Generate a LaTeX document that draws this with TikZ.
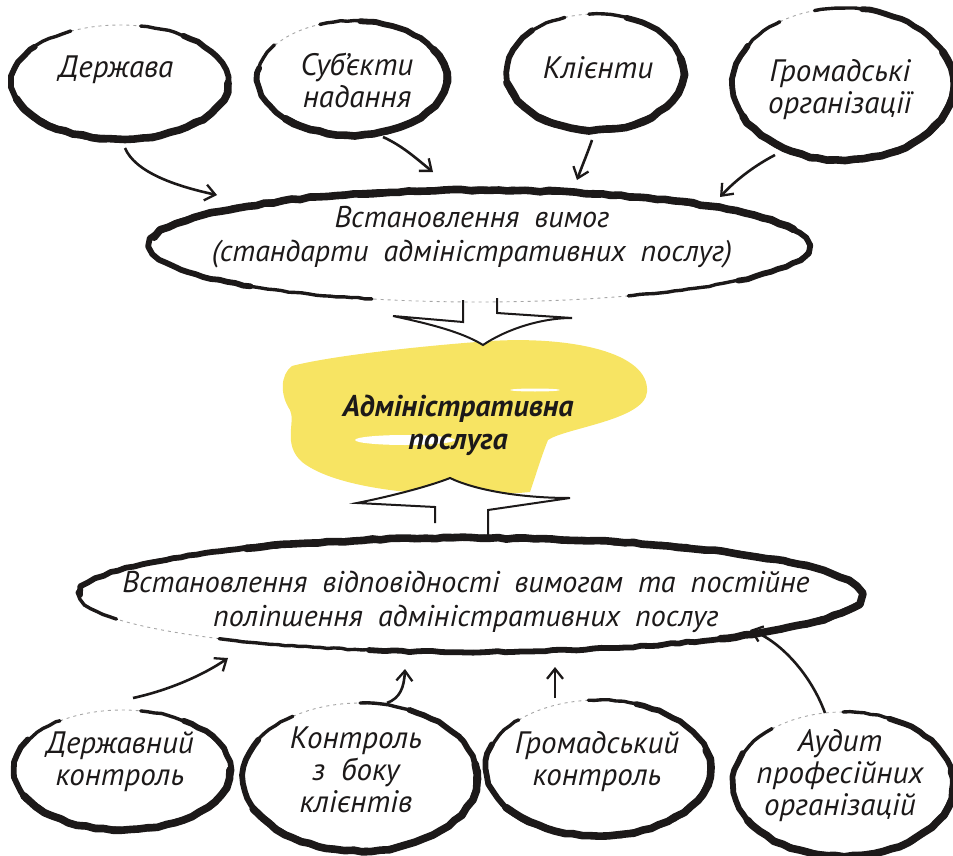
\documentclass[tikz,border=0pt]{standalone}
\usepackage{fontspec}
\setmainfont{PT Sans}[WordSpace=1.9]
\usetikzlibrary{arrows.meta,decorations.pathmorphing}
\definecolor{blobyellow}{HTML}{F7E463}
\definecolor{ink}{HTML}{1C1919}
\newcommand\handell[7]{%
  \pgfmathsetmacro\hA{#7}\pgfmathsetmacro\hB{#6+360}%
  \pgfmathsetmacro\hC{#7+25}\pgfmathsetmacro\hD{#6+335}%
  \pgfmathsetmacro\hE{#7+80}\pgfmathsetmacro\hF{#6+280}%
  \draw[faintline] ([shift={(#2,#3)}]#1.center) ++(#6:#4 and #5) arc[start angle=#6, end angle=#7, x radius=#4, y radius=#5];
  \draw[brushthin] ([shift={(#2,#3)}]#1.center) ++(\hA:#4 and #5) arc[start angle=\hA, end angle=\hB, x radius=#4, y radius=#5];
  \draw[brushmid] ([shift={(#2,#3)}]#1.center) ++(\hC:#4 and #5) arc[start angle=\hC, end angle=\hD, x radius=#4, y radius=#5];
  \draw[brushthick] ([shift={(#2,#3)}]#1.center) ++(\hE:#4 and #5) arc[start angle=\hE, end angle=\hF, x radius=#4, y radius=#5];
}
\begin{document}
\begin{tikzpicture}[x=1pt,y=-1pt,
  lbl/.style={font=\itshape\fontsize{31}{32}\selectfont, align=center, inner sep=0pt, text=ink},
  bigl/.style={font=\itshape\fontsize{30}{34}\selectfont, align=center, inner sep=0pt, text=ink},
  faintline/.style={draw=gray!70, line width=0.9pt, dash pattern=on 3pt off 4pt},
  brushthin/.style={draw=ink, line width=3.4pt, line cap=round, line join=round, decorate, decoration={random steps, segment length=7pt, amplitude=0.6pt}},
  brushmid/.style={draw=ink, line width=5.8pt, line cap=round, line join=round, decorate, decoration={random steps, segment length=8pt, amplitude=0.8pt}},
  brushthick/.style={draw=ink, line width=7.6pt, line cap=round, line join=round, decorate, decoration={random steps, segment length=9pt, amplitude=0.9pt}},
  conn/.style={draw=ink, line width=2.6pt, -{Straight Barb[length=10pt, width=16pt, line width=2.3pt]}},
  blockarrow/.style={draw=ink, fill=white, line width=2pt, line join=miter}
]
\pgfmathsetseed{7}
\useasboundingbox (0,0) rectangle (953,856);

% central yellow blob
\fill[blobyellow] (292,366) .. controls (330,356) and (420,346) .. (490,341)
  .. controls (570,336) and (650,352) .. (647,392)
  .. controls (645,420) and (565,428) .. (548,440)
  .. controls (540,460) and (535,478) .. (530,492)
  .. controls (450,500) and (340,492) .. (302,462)
  .. controls (282,444) and (296,422) .. (290,410)
  .. controls (280,395) and (280,375) .. (292,366) -- cycle;
\fill[white] (405,440) ellipse [x radius=50, y radius=5];
\fill[white] (535,390) ellipse [x radius=25, y radius=1.5];

% block arrows
\draw[blockarrow] (463,300) -- (463,322) -- (393,316)
  .. controls (430,324) and (462,332) .. (483,345)
  .. controls (505,330) and (540,318) .. (572,318) -- (497,313) -- (497,298);
\draw[blockarrow] (435,523) -- (435,507) -- (357,503)
  .. controls (392,496) and (430,486) .. (450,478)
  .. controls (475,490) and (520,498) .. (570,498) -- (488,510) -- (488,537);

% nodes
\node[lbl] (d) at (116,70) {Держава};
\node[lbl] (s) at (357,80) {Суб'єкти\\надання};
\node[lbl] (k) at (598,68) {Клієнти};
\node[lbl] (o) at (840,90) {Громадські\\організації};
\node[bigl] (m) at (472,237) {Встановлення вимог\\(стандарти адміністративних послуг)};
\node[lbl, font=\bfseries\itshape\fontsize{30}{33}\selectfont] (c) at (458,425) {Адміністративна\\послуга};
\node[bigl] (b) at (466,602) {Встановлення відповідності вимогам та постійне\\поліпшення адміністративних послуг};
\node[lbl] (e) at (120,762) {Державний\\контроль};
\node[lbl] (f) at (356,770) {Контроль\\з боку\\клієнтів};
\node[lbl] (g) at (597,762) {Громадський\\контроль};
\node[lbl] (h) at (840,776) {Аудит\\професійних\\організацій};

% hand-drawn ellipses: node, dx, dy, rx, ry, faint start, faint end
\handell{d}{4}{12}{108}{57}{243}{281}
\handell{s}{-5}{-2}{94}{57}{215}{250}
\handell{k}{-3}{4}{88}{58}{250}{266}
\handell{o}{3}{-6}{110}{76}{235}{255}
\handell{m}{7}{9}{329}{56}{63}{109}
\handell{b}{4}{-7}{390}{57}{130}{155}
\handell{e}{2}{8}{108}{60}{235}{280}
\handell{f}{4}{7}{117}{74}{235}{270}
\handell{g}{1}{6}{112}{68}{225}{265}
\handell{h}{3}{8}{110}{72}{230}{270}

% connectors
\draw[conn] ([shift={(9,78)}]d.center) .. controls (135,172) and (175,186) .. ([shift={(-255,-42)}]m.center);
\draw[conn] ([shift={(26,57)}]s.center) .. controls (403,146) and (418,160) .. ([shift={(-39,-65)}]m.center);
\draw[conn] ([shift={(-6,72)}]k.center) .. controls (588,152) and (582,166) .. ([shift={(105,-57)}]m.center);
\draw[conn] ([shift={(-65,65)}]o.center) .. controls (750,168) and (732,184) .. ([shift={(248,-40)}]m.center);
\draw[conn] ([shift={(13,-64)}]e.center) .. controls (170,690) and (205,674) .. ([shift={(-238,56)}]b.center);
\draw[conn] ([shift={(31,-67)}]f.center) .. controls (400,698) and (404,688) .. ([shift={(-61,67)}]b.center);
\draw[conn] ([shift={(-42,-64)}]g.center) -- ([shift={(89,65)}]b.center);
\draw[conn] ([shift={(-15,-63)}]h.center) .. controls (810,672) and (778,640) .. ([shift={(284,28)}]b.center);
\end{tikzpicture}
\end{document}
